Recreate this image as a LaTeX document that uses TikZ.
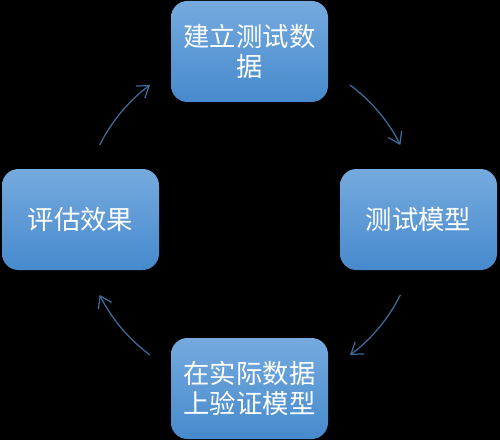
\documentclass[tikz,border=0pt]{standalone}
\usepackage{fontspec}
\setmainfont{Noto Sans CJK SC}
\usetikzlibrary{arrows.meta,calc}
\definecolor{boxtop}{RGB}{118,170,222}
\definecolor{boxbot}{RGB}{70,138,205}
\definecolor{arcblue}{RGB}{62,110,158}
\newcommand{\cycleradius}{3.36}

\begin{document}
\begin{tikzpicture}[
  stepbox/.style={rounded corners=0.33cm, top color=boxtop, bottom color=boxbot,
    minimum width=3.14cm, minimum height=2.02cm, align=center, text=white,
    font=\fontsize{15}{17}\selectfont},
  cyclearrow/.style={draw=arcblue, line width=0.7pt, -{Straight Barb[length=2.2mm,width=3mm]}}]

%% Background and frame of the page
\fill[black] (0,0) rectangle (10,8.8);
\useasboundingbox (0,0) rectangle (10,8.8);

%% Centre of the cycle
\coordinate (mid) at (5,4.4);

%% Place the four steps round the centre
\node[stepbox] (build) at (4.99,7.77) {建立测试数\\据};
\node[stepbox] (test) at (8.37,4.41) {测试模型};
\node[stepbox] (verify) at (4.99,1.03) {在实际数据\\上验证模型};
\node[stepbox] (eval) at (1.61,4.41) {评估效果};

%% Draw the arcs between the steps, clockwise
\foreach \a/\name in {53.5/one, -26.5/two, -126.5/three, 153.5/four} {
  \coordinate (arc\name) at ($(mid)+(\a:\cycleradius)$);
  \draw[cyclearrow] (arc\name) arc[start angle=\a, delta angle=-27, radius=\cycleradius];
}

\end{tikzpicture}
\end{document}
